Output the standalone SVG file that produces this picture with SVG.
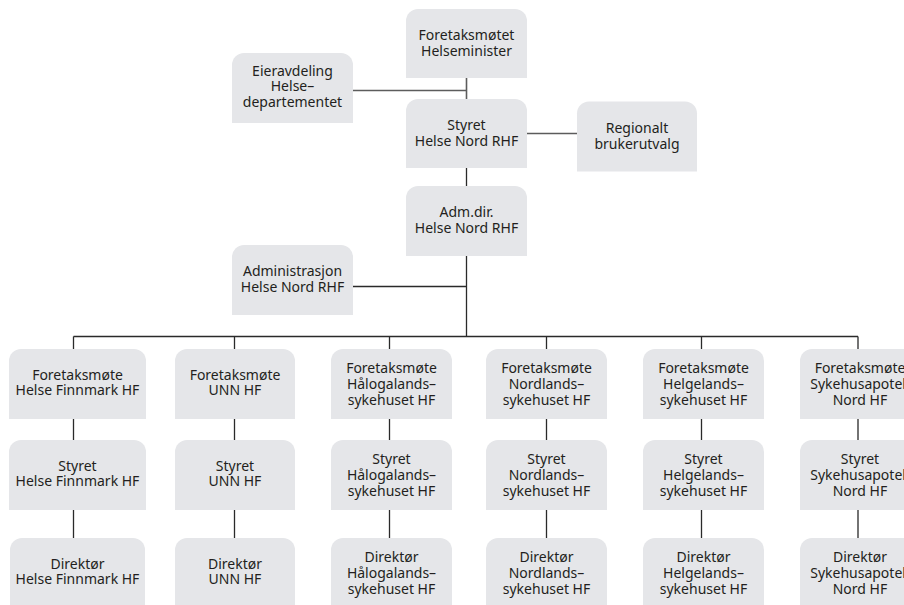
<svg xmlns="http://www.w3.org/2000/svg" width="904" height="605" viewBox="0 0 904 605">
<style>
.n{fill:#e5e6e9}
.t{font-family:"Noto Sans","Open Sans","DejaVu Sans",sans-serif;font-size:14px;fill:#231f20;text-anchor:middle}
.c{stroke:#2a2a2a;stroke-width:1.3;fill:none}
.g{stroke:#5c5c5c;stroke-width:1.6;fill:none}
</style>
<rect width="904" height="605" fill="#ffffff"/>
<g id="connectors">
<path class="g" d="M353,90.5H466.5M466.5,78V99"/>
<path class="g" d="M527,133.5H577"/>
<path class="c" d="M466.5,168V186M466.5,256V336.5M353,286.5H466.5"/>
<path class="c" d="M73.5,336.5H858M73.5,336.5V349M234.5,336.5V349M389.5,336.5V349M546.5,336.5V349M701.5,336.5V349M858,336.5V349"/>
<path class="c" d="M73.5,419V440M234.5,419V440M389.5,419V440M546.5,419V440M701.5,419V440M858,419V440"/>
<path class="c" d="M73.5,510V538M234.5,510V538M389.5,510V538M546.5,510V538M701.5,510V538M858,510V538"/>
</g>
<g id="foretaksmotet">
<path class="n" d="M406,78V21A12,12 0 0 1 418,9H515A12,12 0 0 1 527,21V78Z"/>
<text class="t" x="466.5" y="39.5">Foretaksmøtet</text>
<text class="t" x="466.5" y="55.5">Helseminister</text>
</g>
<g id="eieravdeling">
<path class="n" d="M232,123V65A12,12 0 0 1 244,53H341A12,12 0 0 1 353,65V123Z"/>
<text class="t" x="292.5" y="75.5">Eieravdeling</text>
<text class="t" x="292.5" y="91">Helse–</text>
<text class="t" x="292.5" y="106.5">departementet</text>
</g>
<g id="styret-rhf">
<path class="n" d="M406,168V111A12,12 0 0 1 418,99H515A12,12 0 0 1 527,111V168Z"/>
<text class="t" x="466.5" y="130">Styret</text>
<text class="t" x="466.5" y="146">Helse Nord RHF</text>
</g>
<g id="brukerutvalg">
<path class="n" d="M577,171.5V113.5A12,12 0 0 1 589,101.5H685A12,12 0 0 1 697,113.5V171.5Z"/>
<text class="t" x="637" y="132.5">Regionalt</text>
<text class="t" x="637" y="148.5">brukerutvalg</text>
</g>
<g id="admdir">
<path class="n" d="M406,256V198A12,12 0 0 1 418,186H515A12,12 0 0 1 527,198V256Z"/>
<text class="t" x="466.5" y="216.5">Adm.dir.</text>
<text class="t" x="466.5" y="232.5">Helse Nord RHF</text>
</g>
<g id="administrasjon">
<path class="n" d="M232,315V257A12,12 0 0 1 244,245H341A12,12 0 0 1 353,257V315Z"/>
<text class="t" x="292.5" y="276">Administrasjon</text>
<text class="t" x="292.5" y="292">Helse Nord RHF</text>
</g>
<g id="fm-finnmark">
<path class="n" d="M9,419V361A12,12 0 0 1 21,349H134A12,12 0 0 1 146,361V419Z"/>
<text class="t" x="77.5" y="379.5">Foretaksmøte</text>
<text class="t" x="77.5" y="395">Helse Finnmark HF</text>
</g>
<g id="st-finnmark">
<path class="n" d="M9,510V452A12,12 0 0 1 21,440H134A12,12 0 0 1 146,452V510Z"/>
<text class="t" x="77.5" y="470.5">Styret</text>
<text class="t" x="77.5" y="486">Helse Finnmark HF</text>
</g>
<g id="dir-finnmark">
<path class="n" d="M10,610V550A12,12 0 0 1 22,538H133A12,12 0 0 1 145,550V610Z"/>
<text class="t" x="77.5" y="568.5">Direktør</text>
<text class="t" x="77.5" y="584">Helse Finnmark HF</text>
</g>
<g id="fm-unn">
<path class="n" d="M175,419V361A12,12 0 0 1 187,349H283A12,12 0 0 1 295,361V419Z"/>
<text class="t" x="235" y="379.5">Foretaksmøte</text>
<text class="t" x="235" y="395">UNN HF</text>
</g>
<g id="st-unn">
<path class="n" d="M175,510V452A12,12 0 0 1 187,440H283A12,12 0 0 1 295,452V510Z"/>
<text class="t" x="235" y="470.5">Styret</text>
<text class="t" x="235" y="486">UNN HF</text>
</g>
<g id="dir-unn">
<path class="n" d="M175,610V550A12,12 0 0 1 187,538H283A12,12 0 0 1 295,550V610Z"/>
<text class="t" x="235" y="568.5">Direktør</text>
<text class="t" x="235" y="584">UNN HF</text>
</g>
<g id="fm-halogaland">
<path class="n" d="M331,419V361A12,12 0 0 1 343,349H440A12,12 0 0 1 452,361V419Z"/>
<text class="t" x="391.5" y="372.5">Foretaksmøte</text>
<text class="t" x="391.5" y="388.5">Hålogalands–</text>
<text class="t" x="391.5" y="404.5">sykehuset HF</text>
</g>
<g id="st-halogaland">
<path class="n" d="M331,510V452A12,12 0 0 1 343,440H440A12,12 0 0 1 452,452V510Z"/>
<text class="t" x="391.5" y="463.5">Styret</text>
<text class="t" x="391.5" y="479.5">Hålogalands–</text>
<text class="t" x="391.5" y="495.5">sykehuset HF</text>
</g>
<g id="dir-halogaland">
<path class="n" d="M331,610V550A12,12 0 0 1 343,538H440A12,12 0 0 1 452,550V610Z"/>
<text class="t" x="391.5" y="561.5">Direktør</text>
<text class="t" x="391.5" y="577.5">Hålogalands–</text>
<text class="t" x="391.5" y="593.5">sykehuset HF</text>
</g>
<g id="fm-nordland">
<path class="n" d="M486,419V361A12,12 0 0 1 498,349H595A12,12 0 0 1 607,361V419Z"/>
<text class="t" x="546.5" y="372.5">Foretaksmøte</text>
<text class="t" x="546.5" y="388.5">Nordlands–</text>
<text class="t" x="546.5" y="404.5">sykehuset HF</text>
</g>
<g id="st-nordland">
<path class="n" d="M486,510V452A12,12 0 0 1 498,440H595A12,12 0 0 1 607,452V510Z"/>
<text class="t" x="546.5" y="463.5">Styret</text>
<text class="t" x="546.5" y="479.5">Nordlands–</text>
<text class="t" x="546.5" y="495.5">sykehuset HF</text>
</g>
<g id="dir-nordland">
<path class="n" d="M486,610V550A12,12 0 0 1 498,538H595A12,12 0 0 1 607,550V610Z"/>
<text class="t" x="546.5" y="561.5">Direktør</text>
<text class="t" x="546.5" y="577.5">Nordlands–</text>
<text class="t" x="546.5" y="593.5">sykehuset HF</text>
</g>
<g id="fm-helgeland">
<path class="n" d="M643,419V361A12,12 0 0 1 655,349H752A12,12 0 0 1 764,361V419Z"/>
<text class="t" x="703.5" y="372.5">Foretaksmøte</text>
<text class="t" x="703.5" y="388.5">Helgelands–</text>
<text class="t" x="703.5" y="404.5">sykehuset HF</text>
</g>
<g id="st-helgeland">
<path class="n" d="M643,510V452A12,12 0 0 1 655,440H752A12,12 0 0 1 764,452V510Z"/>
<text class="t" x="703.5" y="463.5">Styret</text>
<text class="t" x="703.5" y="479.5">Helgelands–</text>
<text class="t" x="703.5" y="495.5">sykehuset HF</text>
</g>
<g id="dir-helgeland">
<path class="n" d="M643,610V550A12,12 0 0 1 655,538H752A12,12 0 0 1 764,550V610Z"/>
<text class="t" x="703.5" y="561.5">Direktør</text>
<text class="t" x="703.5" y="577.5">Helgelands–</text>
<text class="t" x="703.5" y="593.5">sykehuset HF</text>
</g>
<g id="fm-sykehusapotek">
<path class="n" d="M800,419V361A12,12 0 0 1 812,349H909A12,12 0 0 1 921,361V419Z"/>
<text class="t" x="860" y="372.5">Foretaksmøte</text>
<text class="t" x="860" y="388.5">Sykehusapotek</text>
<text class="t" x="860" y="404.5">Nord HF</text>
</g>
<g id="st-sykehusapotek">
<path class="n" d="M800,510V452A12,12 0 0 1 812,440H909A12,12 0 0 1 921,452V510Z"/>
<text class="t" x="860" y="463.5">Styret</text>
<text class="t" x="860" y="479.5">Sykehusapotek</text>
<text class="t" x="860" y="495.5">Nord HF</text>
</g>
<g id="dir-sykehusapotek">
<path class="n" d="M800,610V550A12,12 0 0 1 812,538H909A12,12 0 0 1 921,550V610Z"/>
<text class="t" x="860" y="561.5">Direktør</text>
<text class="t" x="860" y="577.5">Sykehusapotek</text>
<text class="t" x="860" y="593.5">Nord HF</text>
</g>
</svg>
